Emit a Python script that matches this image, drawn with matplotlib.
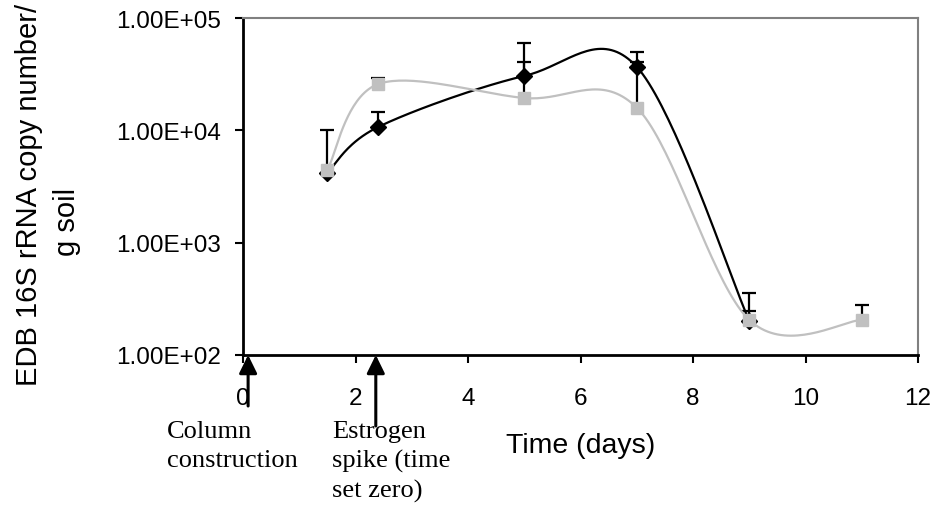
import numpy as np
import matplotlib.pyplot as plt

# data
days = [1.5, 2.4, 5, 7, 9]
edb_black = [4.2e3, 1.07e4, 3.05e4, 3.67e4, 2.0e2]
edb_black_err = [5.8e3, 4.0e3, 2.95e4, 1.35e4, 1.56e2]

days_gray = [1.5, 2.4, 5, 7, 9, 11]
edb_gray = [4.45e3, 2.58e4, 1.94e4, 1.59e4, 2.05e2, 2.05e2]
edb_gray_err = [0, 3.5e3, 2.13e4, 2.48e4, 4.2e1, 7.5e1]

yticks = [1e2, 1e3, 1e4, 1e5]
ytick_labels = ['1.00E+02', '1.00E+03', '1.00E+04', '1.00E+05']
xticks = [0, 2, 4, 6, 8, 10, 12]

col_x = 0.09     # column construction arrow
spike_x = 2.36   # estrogen spike arrow


def smooth(xs, ys, n=40):
    # Excel-style smoothed line: Catmull-Rom in (x, log y) space
    p = np.column_stack([xs, np.log10(ys)])
    p = np.vstack([p[0], p, p[-1]])
    out = []
    t = np.linspace(0, 1, n)[:, None]
    for i in range(1, len(p) - 2):
        p0, p3 = p[i], p[i + 1]
        c1 = p0 + (p[i + 1] - p[i - 1]) / 6
        c2 = p3 - (p[i + 2] - p[i]) / 6
        seg = ((1 - t) ** 3 * p0 + 3 * (1 - t) ** 2 * t * c1
               + 3 * (1 - t) * t ** 2 * c2 + t ** 3 * p3)
        out.append(seg)
    out = np.vstack(out)
    return out[:, 0], 10 ** out[:, 1]


def upper_bars(ax, xs, ys, errs):
    # upper-only error bars with a cap at the top
    for x, y, e in zip(xs, ys, errs):
        if e <= 0:
            continue
        ax.vlines(x, y, y + e, color='black', lw=1.6, zorder=2)
        ax.plot(x, y + e, marker='_', ms=9.5, mew=1.6, color='black', zorder=2)


plt.rcParams['font.family'] = ['Liberation Sans', 'DejaVu Sans']

fig = plt.figure(figsize=(9.33, 5.10), dpi=100)
ax = fig.add_axes([0.2605, 0.302, 0.7235, 0.6607])

upper_bars(ax, days, edb_black, edb_black_err)
upper_bars(ax, days_gray, edb_gray, edb_gray_err)

sx, sy = smooth(days, edb_black)
ax.plot(sx, sy, color='black', lw=1.6, zorder=3)
ax.plot(days, edb_black, ls='none', marker='D', ms=8.5, color='black', zorder=4)

gx, gy = smooth(days_gray, edb_gray)
ax.plot(gx, gy, color='#C0C0C0', lw=1.6, zorder=5)
ax.plot(days_gray, edb_gray, ls='none', marker='s', ms=8.5, color='#C0C0C0', zorder=6)

ax.set_yscale('log')
ax.set_xlim(0, 12)
ax.set_ylim(1e2, 1e5)
ax.set_xticks(xticks)
ax.set_yticks(yticks)
ax.set_yticklabels(ytick_labels)
ax.minorticks_off()
ax.tick_params(axis='y', direction='out', length=6, width=1.5, pad=10, labelsize=17.5)
ax.tick_params(axis='x', direction='out', length=6, width=1.5, pad=17, labelsize=17.5)

for side in ['top', 'right']:
    ax.spines[side].set_color('#808080')
    ax.spines[side].set_linewidth(1.5)
for side in ['left', 'bottom']:
    ax.spines[side].set_color('black')
    ax.spines[side].set_linewidth(2)

ax.set_xlabel('Time (days)', fontsize=20.5, labelpad=0)
ax.xaxis.set_label_coords(0.5, -0.228)

# y label, two lines as in the original
fig.text(0.016, 1 - 195 / 510, 'EDB 16S rRNA copy number/', rotation=90,
         fontsize=21, ha='left', va='center')
fig.text(0.057, 1 - 222 / 510, 'g soil', rotation=90,
         fontsize=21, ha='left', va='center')

# arrows below the axis
arrow = dict(arrowstyle='-|>,head_length=0.55,head_width=0.27', lw=2.2,
             color='black', mutation_scale=20, shrinkA=0, shrinkB=0)
ax.annotate('', xy=(col_x, 1e2), xytext=(col_x, 1 - 407 / 510),
            xycoords='data', textcoords=('data', 'figure fraction'),
            arrowprops=arrow, annotation_clip=False)
ax.annotate('', xy=(spike_x, 1e2), xytext=(spike_x, 1 - 427 / 510),
            xycoords='data', textcoords=('data', 'figure fraction'),
            arrowprops=arrow, annotation_clip=False)

fig.text(167 / 933, 1 - 421 / 510, 'Column\nconstruction', family='Liberation Serif',
         fontsize=19, ha='left', va='top', linespacing=1.4)
fig.text(332 / 933, 1 - 421 / 510, 'Estrogen\nspike (time\nset zero)',
         family='Liberation Serif', fontsize=19, ha='left', va='top', linespacing=1.4)

fig.savefig('out.png', dpi=100)
